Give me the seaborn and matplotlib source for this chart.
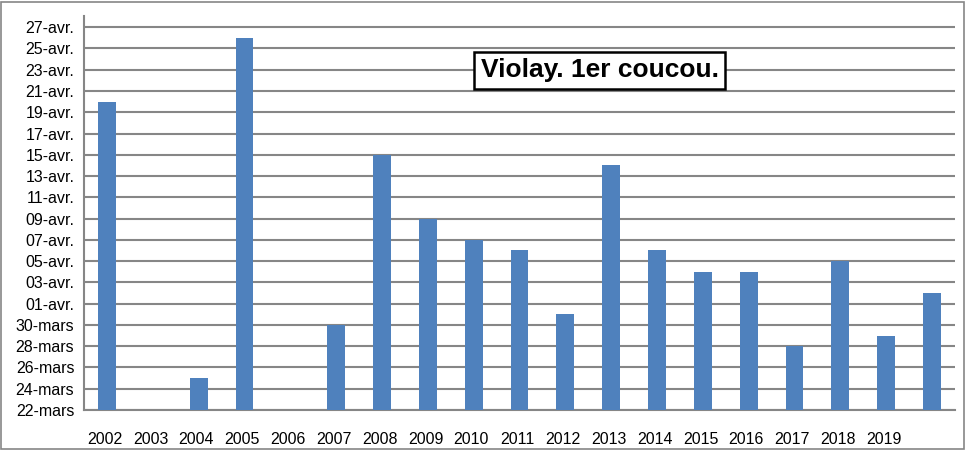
import datetime as dt
import numpy as np
import pandas as pd
import matplotlib
matplotlib.use("Agg")
import matplotlib.pyplot as plt
import seaborn as sns

# ---- data ----
years = ["2002", "2003", "2004", "2005", "2006", "2007", "2008", "2009", "2010", "2011",
         "2012", "2013", "2014", "2015", "2016", "2017", "2018", "2019", "2020"]
tick_labels = ["2002", "2003", "2004", "2005", "2006", "2007", "2008", "2009", "2010", "2011",
               "2012", "2013", "2014", "2015", "2016", "2017", "2018", "2019", ""]
# first cuckoo date (month, day); None = no observation
first_dates = [(4, 20), None, (3, 25), (4, 26), None, (3, 30), (4, 15), (4, 9), (4, 7), (4, 6),
               (3, 31), (4, 14), (4, 6), (4, 4), (4, 4), (3, 28), (4, 5), (3, 29), (4, 2)]
month_names = {3: "mars", 4: "avr."}
title_text = "Violay. 1er coucou."

base = dt.date(2001, 3, 22)
def day_index(md):
    if md is None:
        return np.nan
    return (dt.date(2001, md[0], md[1]) - base).days

values = [day_index(d) for d in first_dates]
df = pd.DataFrame({"year": years, "day": values})

sns.set_theme(style="white")
plt.rcParams["font.family"] = ["Liberation Sans", "DejaVu Sans"]

fig = plt.figure(figsize=(9.66, 4.5), dpi=100)
ax = fig.add_axes([84 / 966, 40 / 450, 871 / 966, 394 / 450])

sns.barplot(data=df, x="year", y="day", order=years, color="#4F81BD",
            saturation=1, width=0.39, errorbar=None, ax=ax, zorder=3,
            linewidth=0, edgecolor="none")

# y axis: every 2 days from 22-mars to 27-avr.
yticks = list(range(0, 37, 2))
ylabels = []
for t in yticks:
    d = base + dt.timedelta(days=t)
    ylabels.append(f"{d.day:02d}-{month_names[d.month]}")
ax.set_yticks(yticks)
ax.set_yticklabels(ylabels, fontsize=11.5, color="black")
ax.set_ylim(0, 37.05)
ax.yaxis.grid(True, color="#868686", linewidth=1.5, zorder=0)
ax.set_axisbelow(True)

n = len(years)
ax.set_xlim(-0.5, n - 0.5)
ax.set_xticks(np.arange(-0.5, n, 1.0))
ax.set_xticklabels([])
ax.set_xticks(np.arange(n) - 0.05, minor=True)
ax.set_xticklabels(tick_labels, minor=True, fontsize=11.5, color="black")
ax.tick_params(axis="x", which="major", length=5, width=1.2, color="#868686", direction="out")
ax.tick_params(axis="x", which="minor", length=0, pad=16)
ax.tick_params(axis="y", length=5, width=1.2, color="#868686", direction="out", pad=2)
ax.set_xlabel("")
ax.set_ylabel("")

for side in ["top", "right"]:
    ax.spines[side].set_visible(False)
for side in ["left", "bottom"]:
    ax.spines[side].set_color("#868686")
    ax.spines[side].set_linewidth(1.5)

ax.text(0.592, 0.862, title_text, transform=ax.transAxes, ha="center", va="center",
        fontsize=19, fontweight="bold", color="black",
        bbox=dict(boxstyle="square,pad=0.25", facecolor="white", edgecolor="black", linewidth=1.8),
        zorder=5)

# outer chart border
fig.patches.append(plt.Rectangle((1 / 966, 1 / 450), 963 / 966, 447 / 450, transform=fig.transFigure,
                                 fill=False, edgecolor="#868686", linewidth=1.2))

fig.savefig("out.png", dpi=100)
